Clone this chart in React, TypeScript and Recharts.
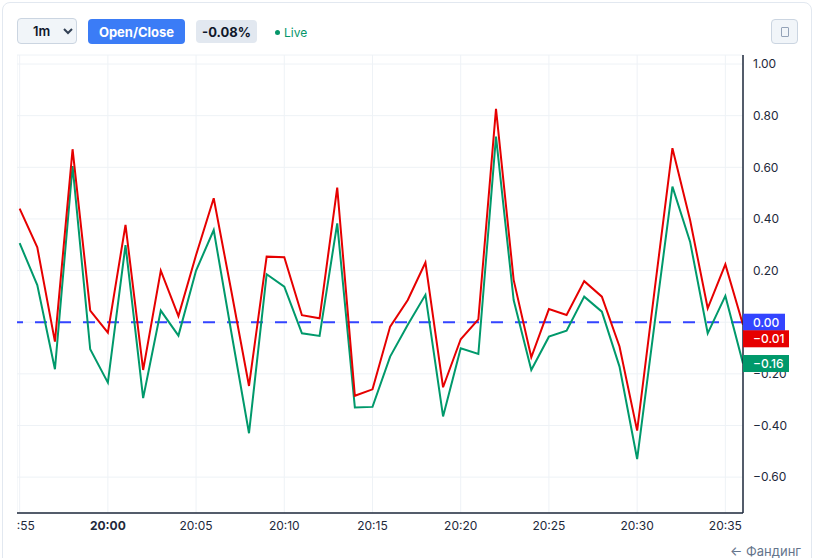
import React from "react";
import {
  LineChart,
  Line,
  XAxis,
  YAxis,
  CartesianGrid,
  ReferenceLine,
} from "recharts";

const TIME_LABELS = [
  "19:55", "19:56", "19:57", "19:58", "19:59", "20:00", "20:01", "20:02", "20:03", "20:04",
  "20:05", "20:06", "20:07", "20:08", "20:09", "20:10", "20:11", "20:12", "20:13", "20:14",
  "20:15", "20:16", "20:17", "20:18", "20:19", "20:20", "20:21", "20:22", "20:23", "20:24",
  "20:25", "20:26", "20:27", "20:28", "20:29", "20:30", "20:31", "20:32", "20:33", "20:34",
  "20:35", "20:36",
];

// open/close spread, %
const RED = [
  0.44, 0.29, -0.075, 0.67, 0.045, -0.04, 0.377, -0.185, 0.2, 0.024,
  0.26, 0.48, 0.12, -0.247, 0.254, 0.252, 0.027, 0.015, 0.521, -0.285,
  -0.26, -0.017, 0.086, 0.231, -0.252, -0.066, 0.011, 0.826, 0.164, -0.136,
  0.051, 0.028, 0.159, 0.099, -0.094, -0.42, 0.13, 0.674, 0.396, 0.054,
  0.224, -0.01,
];

const GREEN = [
  0.306, 0.144, -0.182, 0.605, -0.105, -0.234, 0.299, -0.294, 0.045, -0.052,
  0.2, 0.357, -0.04, -0.43, 0.186, 0.138, -0.043, -0.053, 0.383, -0.33,
  -0.328, -0.133, -0.01, 0.106, -0.365, -0.101, -0.123, 0.719, 0.086, -0.185,
  -0.056, -0.033, 0.099, 0.041, -0.172, -0.53, 0.0, 0.525, 0.312, -0.043,
  0.102, -0.16,
];

const X_TICK_LABELS = ["19:55", "20:00", "20:05", "20:10", "20:15", "20:20", "20:25", "20:30", "20:35"];
const Y_TICKS = [1.0, 0.8, 0.6, 0.4, 0.2, 0, -0.2, -0.4, -0.6];

const RED_C = "#e60000";
const GREEN_C = "#00996b";
const BLUE_C = "#3344ff";
const FONT = "Inter, 'Noto Sans', sans-serif";

const X_DOMAIN: [number, number] = [-0.15, 41];
const Y_DOMAIN: [number, number] = [-0.739, 1.035];
const MARGIN = { top: 5, right: 0, bottom: 15, left: 0 };

const toMin = (s: string) => {
  const [h, m] = s.split(":").map(Number);
  return h * 60 + m;
};
const BASE = toMin(TIME_LABELS[0]);
const fmtTime = (t: number) => {
  const v = BASE + t;
  const h = Math.floor(v / 60);
  const m = v % 60;
  return `${String(h).padStart(2, "0")}:${String(m).padStart(2, "0")}`;
};
const fmtVal = (v: number) => (v < 0 ? "\u2212" : "") + Math.abs(v).toFixed(2);

const data = TIME_LABELS.map((s, i) => ({ t: toMin(s) - BASE, close: RED[i], open: GREEN[i] }));
const xTicks = X_TICK_LABELS.map((s) => toMin(s) - BASE);

const XTick = ({ x, y, payload }: any) => {
  const label = fmtTime(payload.value);
  return (
    <text x={x} y={y} dy="0.71em" textAnchor="middle" fontSize={12} fill="#1e293b"
      fontFamily={FONT} fontWeight={label === "20:00" ? 700 : 400}>
      {label}
    </text>
  );
};

// last-value tag drawn at the right edge of the plot
const priceTag = (text: string, bg: string, w: number, shift: number) => (props: any) => {
  const vb = props.viewBox;
  const x = vb.x + vb.width;
  const y = vb.y + shift;
  return (
    <g>
      <rect x={x} y={y - 8.5} width={w} height={17} fill={bg} />
      <text x={x + 10} y={y} dy="0.36em" fontSize={12} fill="#fff" fontFamily={FONT} fontWeight={500}>
        {text}
      </text>
    </g>
  );
};

export default function App() {
  const lastRed = RED[RED.length - 1];
  const lastGreen = GREEN[GREEN.length - 1];
  return (
    <div style={{ position: "fixed", left: 0, top: 0, width: 815, height: 558, background: "#fff", overflow: "hidden", fontFamily: FONT }}>
      <div style={{
        position: "absolute", left: 2, top: 2, width: 808, height: 580,
        border: "1px solid #e2e8f0", borderRadius: 8, background: "#fff",
      }} />

      {/* toolbar */}
      <div style={{
        position: "absolute", left: 17, top: 18, width: 60, height: 26,
        background: "#f1f5f9", border: "1px solid #cbd5e1", borderRadius: 4,
        display: "flex", alignItems: "center", boxSizing: "border-box", paddingLeft: 15,
        fontSize: 13, fontWeight: 600, color: "#0f172a",
      }}>
        1m
        <svg width="10" height="8" style={{ marginLeft: 13 }}>
          <path d="M1 2 L5 6 L9 2" fill="none" stroke="#334155" strokeWidth={2} />
        </svg>
      </div>
      <div style={{
        position: "absolute", left: 88, top: 19, width: 97, height: 25, background: "#3b7cf6",
        borderRadius: 4, color: "#fff", fontSize: 13, fontWeight: 700,
        display: "flex", alignItems: "center", justifyContent: "center",
      }}>Open/Close</div>
      <div style={{
        position: "absolute", left: 196, top: 20, width: 61, height: 23, background: "#e2e8f0",
        borderRadius: 4, color: "#0f172a", fontSize: 13, fontWeight: 700,
        display: "flex", alignItems: "center", justifyContent: "center",
      }}>-0.08%</div>
      <div style={{
        position: "absolute", left: 275, top: 23, height: 18, color: "#059669", fontSize: 12,
        display: "flex", alignItems: "center", gap: 4,
      }}>
        <span style={{ display: "inline-block", width: 5, height: 5, borderRadius: 3, background: "#059669" }} />
        Live
      </div>
      <div style={{
        position: "absolute", left: 771, top: 19, width: 27, height: 25, background: "#f1f5f9",
        border: "1px solid #cbd5e1", borderRadius: 4, boxSizing: "border-box",
        display: "flex", alignItems: "center", justifyContent: "center",
      }}>
        <span style={{ width: 6, height: 8, border: "1px solid #94a3b8", borderRadius: 1 }} />
      </div>

      {/* chart */}
      <div style={{ position: "absolute", left: 17, top: 50, width: 798, height: 508, overflow: "hidden" }}>
        <LineChart width={798} height={508} data={data} margin={MARGIN}>
          <CartesianGrid stroke="#eef2f6" strokeWidth={1} />
          <XAxis
            type="number"
            dataKey="t"
            domain={X_DOMAIN}
            ticks={xTicks}
            allowDataOverflow
            height={30}
            tickLine={false}
            axisLine={{ stroke: "#1e293b", strokeWidth: 1.5 }}
            tick={<XTick />}
            interval={0}
          />
          <YAxis
            orientation="right"
            type="number"
            domain={Y_DOMAIN}
            ticks={Y_TICKS}
            allowDataOverflow
            width={72}
            tickLine={false}
            tickMargin={4}
            axisLine={{ stroke: "#1e293b", strokeWidth: 1.5 }}
            tick={{ fontSize: 12, fill: "#1e293b", fontFamily: FONT, textAnchor: "start" }}
            tickFormatter={fmtVal}
            interval={0}
          />
          <ReferenceLine y={0} stroke={BLUE_C} strokeWidth={2} strokeDasharray="12 12" />
          <Line type="linear" dataKey="open" stroke={GREEN_C} strokeWidth={2} dot={false} isAnimationActive={false} />
          <Line type="linear" dataKey="close" stroke={RED_C} strokeWidth={2} dot={false} isAnimationActive={false} />
        </LineChart>
      </div>

      {/* tags layer, same scales, on top of the axis labels */}
      <div style={{ position: "absolute", left: 17, top: 50, width: 798, height: 508, pointerEvents: "none" }}>
        <LineChart width={798} height={508} data={data} margin={MARGIN}>
          <XAxis type="number" dataKey="t" domain={X_DOMAIN} allowDataOverflow height={30}
            tick={false} tickLine={false} axisLine={false} />
          <YAxis orientation="right" type="number" domain={Y_DOMAIN} allowDataOverflow width={72}
            tick={false} tickLine={false} axisLine={false} />
          <ReferenceLine y={0} stroke="none" label={priceTag(fmtVal(0), BLUE_C, 42, 0)} />
          <ReferenceLine y={lastRed} stroke="none" label={priceTag(fmtVal(lastRed), RED_C, 46, 14)} />
          <ReferenceLine y={lastGreen} stroke="none" label={priceTag(fmtVal(lastGreen), GREEN_C, 46, 0)} />
        </LineChart>
      </div>

      <div style={{ position: "absolute", right: 14, top: 543, fontSize: 13, color: "#64748b" }}>
        ← Фандинг
      </div>
    </div>
  );
}
